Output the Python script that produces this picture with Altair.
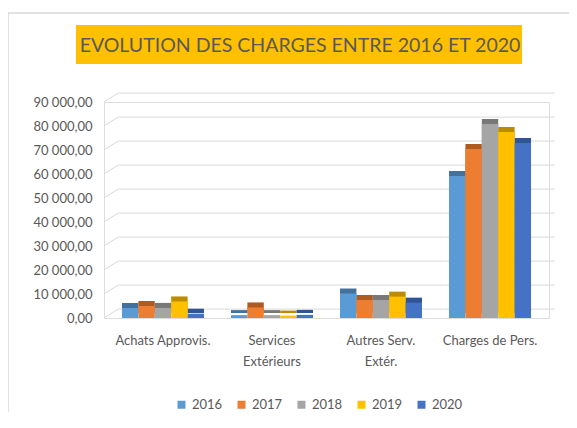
import altair as alt
import pandas as pd

categories = ["Achats Approvis.", "Services Extérieurs", "Autres Serv. Extér.", "Charges de Pers."]
years = ["2016", "2017", "2018", "2019", "2020"]
values = {
    "2016": [4200, 1200, 10200, 59200],
    "2017": [5000, 4400, 7500, 70400],
    "2018": [4200, 1200, 7500, 80800],
    "2019": [6900, 1000, 8900, 77500],
    "2020": [1800, 1300, 6400, 72900],
}
ticks = [0, 10000, 20000, 30000, 40000, 50000, 60000, 70000, 80000, 90000]
title_text = "EVOLUTION DES CHARGES ENTRE 2016 ET 2020"

colors = ["#5B9BD5", "#ED7D31", "#A5A5A5", "#FFC000", "#4472C4"]
dark = ["#41719C", "#AE5A21", "#787878", "#BC8C00", "#2F5597"]

rows = []
for y in years:
    for c, v in zip(categories, values[y]):
        rows.append({"cat": c, "year": y, "value": v})
df = pd.DataFrame(rows)
grid = pd.DataFrame({"v": ticks})
grid["vb"] = grid["v"] + 3700

FONT = "Lato"
GRAY = "#595959"
W, H = 445, 216
TOTAL_H = 404

yscale = alt.Scale(domain=[0, 90000])
xscale = alt.Scale(domain=categories, paddingInner=0.248, paddingOuter=0.165)
xo_scale = alt.Scale(domain=years, paddingInner=0, paddingOuter=0)

xaxis = alt.Axis(labelAngle=0, domain=False, ticks=False, grid=False, labelPadding=16,
                 labelFontSize=13, labelColor=GRAY, labelFont=FONT,
                 labelLineHeight=21, labelBaseline="top", zindex=1,
                 labelExpr="datum.label == 'Services Extérieurs' ? ['Services', 'Extérieurs'] : datum.label == 'Autres Serv. Extér.' ? ['Autres Serv.', 'Extér.'] : datum.label")
yaxis = alt.Axis(values=ticks, grid=False, domain=False, ticks=False, zindex=1,
                 labelOverlap=False, labelBound=False,
                 labelPadding=12, labelFontSize=13, labelColor=GRAY, labelFont=FONT,
                 labelExpr="replace(replace(format(datum.value, ',.2f'), ',', ' '), '.', ',')")

base = alt.Chart(df)
xenc = alt.X("cat:N", scale=xscale, sort=categories, title=None, axis=xaxis)
xoenc = alt.XOffset("year:N", scale=xo_scale, sort=years)

back_bars = base.mark_bar(xOffset=5, yOffset=-5, y2Offset=-5).encode(
    x=xenc, xOffset=xoenc,
    y=alt.Y("value:Q", scale=yscale, title=None, axis=yaxis),
    color=alt.Color("year:N", scale=alt.Scale(domain=years, range=dark), legend=None),
)

front_bars = base.mark_bar().encode(
    x=xenc, xOffset=xoenc,
    y=alt.Y("value:Q", scale=yscale, title=None, axis=yaxis),
    color=alt.Color("year:N", scale=alt.Scale(domain=years, range=colors), sort=years,
                    legend=alt.Legend(title=None, orient="none", direction="horizontal",
                                      legendX=71, legendY=296, symbolType="square",
                                      symbolSize=64, labelFontSize=13, labelColor=GRAY,
                                      labelFont=FONT, columnPadding=12, symbolStrokeWidth=0)),
)

gchart = alt.Chart(grid)
hlines = gchart.mark_rule(color="#D9D9D9", strokeWidth=1).encode(
    x=alt.value(14), x2=alt.value(451),
    y=alt.Y("vb:Q", scale=yscale, title=None, axis=yaxis))
dlines = gchart.mark_rule(color="#D9D9D9", strokeWidth=1).encode(
    x=alt.value(0), x2=alt.value(14),
    y=alt.Y("v:Q", scale=yscale, title=None, axis=yaxis), y2="vb:Q")

one = pd.DataFrame({"t": [title_text]})
title_bg = alt.Chart(one).mark_rect(color="#FFC000").encode(
    x=alt.value(-28), x2=alt.value(418), y=alt.value(-77), y2=alt.value(-38))
title_txt = alt.Chart(one).mark_text(
    font=FONT, fontSize=19.5, color=GRAY, align="center", baseline="middle").encode(
    text="t:N", x=alt.value(196), y=alt.value(-56))
border_top = alt.Chart(one).mark_rule(color="#D9D9D9", strokeWidth=1.5).encode(
    x=alt.value(-96), x2=alt.value(470), y=alt.value(-89))
border_left = alt.Chart(one).mark_rule(color="#D9D9D9", strokeWidth=1.5).encode(
    x=alt.value(-96), y=alt.value(-89), y2=alt.value(330))

chart = alt.layer(border_top, border_left, hlines, dlines, back_bars, front_bars,
                  title_bg, title_txt).resolve_scale(color="independent").properties(
    width=W, height=H,
    autosize=alt.AutoSizeParams(type="none"),
    padding={"left": 96, "top": 94, "right": 561 - 96 - W, "bottom": TOTAL_H - 94 - H},
).configure_view(strokeWidth=0, stroke="transparent").configure(background="white")

chart.save("out.html", embed_options={"renderer": "svg", "actions": False})
